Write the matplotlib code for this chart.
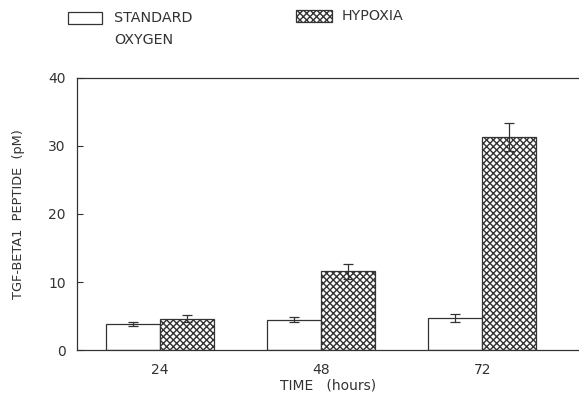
import numpy as np
import matplotlib
matplotlib.use("Agg")
import matplotlib.pyplot as plt
from matplotlib.patches import Rectangle

# data
times = ["24", "48", "72"]
standard = [3.9, 4.5, 4.7]
standard_err = [0.3, 0.4, 0.6]
hypoxia = [4.6, 11.6, 31.3]
hypoxia_err = [0.5, 1.1, 2.1]

plt.rcParams["font.family"] = ["DejaVu Sans"]
plt.rcParams["hatch.linewidth"] = 1.0
ink = "#333333"

fig = plt.figure(figsize=(5.79, 3.97), dpi=100)
ax = fig.add_axes([0.133, 0.118, 0.867, 0.686])

x = np.arange(len(times))
w = 0.335
ax.bar(x - w / 2, standard, w, color="white", edgecolor=ink, linewidth=0.9)
ax.bar(x + w / 2, hypoxia, w, color="white", edgecolor=ink, linewidth=0.9,
       hatch="xxxxx")
ax.errorbar(x - w / 2, standard, yerr=standard_err, fmt="none", ecolor=ink,
            elinewidth=0.9, capsize=3.5, capthick=0.9)
ax.errorbar(x + w / 2, hypoxia, yerr=hypoxia_err, fmt="none", ecolor=ink,
            elinewidth=0.9, capsize=3.5, capthick=0.9)

ax.set_xlim(-0.515, 2.6)
ax.set_ylim(0, 40)
ax.set_yticks([0, 10, 20, 30, 40])
ax.set_xticks(x)
ax.set_xticklabels(times)
ax.tick_params(axis="y", direction="in", length=4, color=ink, labelcolor=ink,
               labelsize=10, pad=8)
ax.tick_params(axis="x", length=0, labelcolor=ink, labelsize=10, pad=9)
ax.spines["right"].set_visible(False)
for s in ["left", "top", "bottom"]:
    ax.spines[s].set_color(ink)
    ax.spines[s].set_linewidth(0.9)

ax.set_ylabel("TGF-BETA1  PEPTIDE  (pM)", color=ink, fontsize=9.3, labelpad=17)
ax.set_xlabel("TIME   (hours)", color=ink, fontsize=10, labelpad=1)

# legend drawn by hand at the top
fig.patches.append(Rectangle((68 / 579, 1 - 24 / 397), 34 / 579, 12 / 397,
                             transform=fig.transFigure, facecolor="white",
                             edgecolor=ink, linewidth=0.9))
fig.patches.append(Rectangle((296 / 579, 1 - 22 / 397), 36 / 579, 12 / 397,
                             transform=fig.transFigure, facecolor="white",
                             edgecolor=ink, linewidth=0.9, hatch="xxxxx"))
fig.text(114 / 579, 1 - 11 / 397, "STANDARD\nOXYGEN", color=ink, fontsize=10.3,
         va="top", ha="left", linespacing=1.75, transform=fig.transFigure)
fig.text(342 / 579, 1 - 16 / 397, "HYPOXIA", color=ink, fontsize=10.3,
         va="center", ha="left")

fig.savefig("out.png", dpi=100, facecolor="white")
